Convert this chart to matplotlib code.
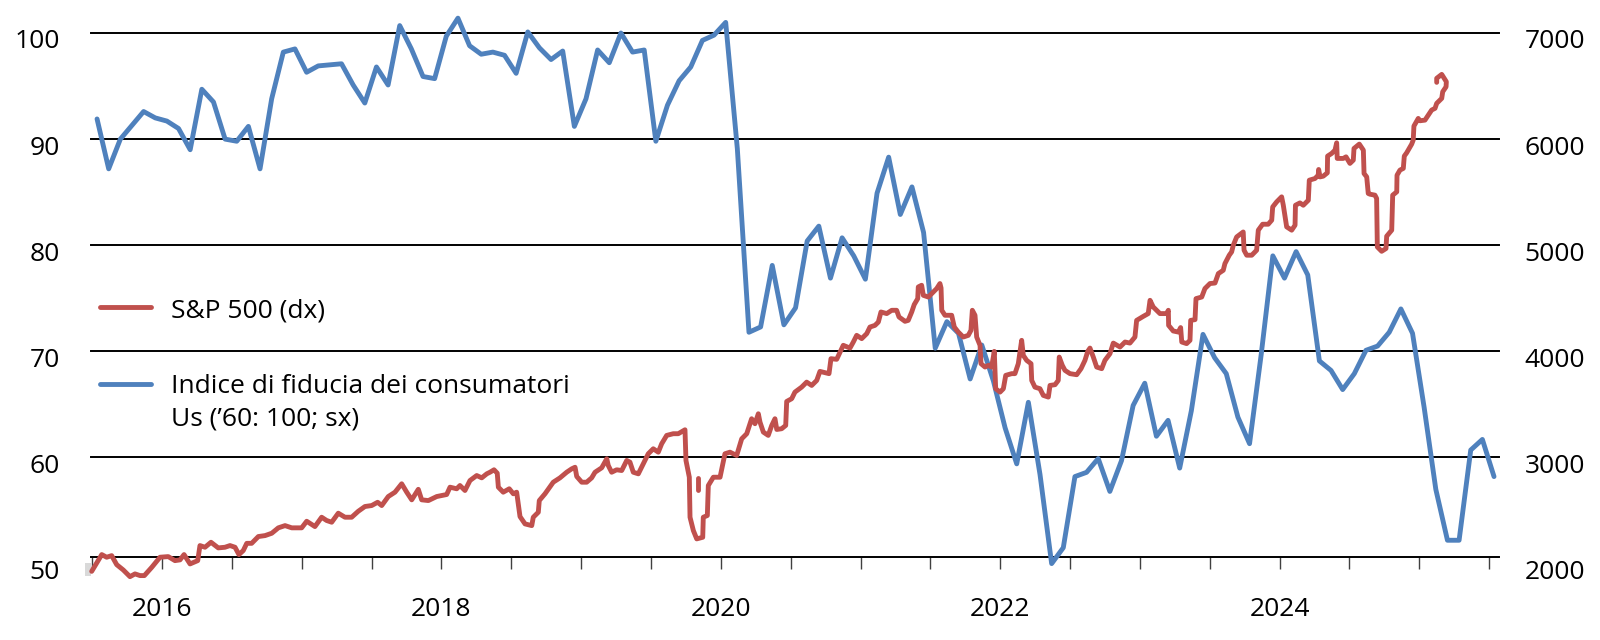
import matplotlib
matplotlib.use("Agg")
import matplotlib.pyplot as plt
import matplotlib.transforms as mtransforms
from matplotlib.lines import Line2D
from matplotlib.patches import Rectangle
import numpy as np

# indice di fiducia dei consumatori Usa, mensile da ago 2015 ad ago 2025 (asse sx)
fiducia_inizio = 2015 + 7 / 12
fiducia = [91.9, 87.2, 90.0, 91.3, 92.6,
           92.0, 91.7, 91.0, 89.0, 94.7, 93.5, 90.0, 89.8, 91.2, 87.2, 93.8, 98.2,
           98.5, 96.3, 96.9, 97.0, 97.1, 95.1, 93.4, 96.8, 95.1, 100.7, 98.5, 95.9,
           95.7, 99.7, 101.4, 98.8, 98.0, 98.2, 97.9, 96.2, 100.1, 98.6, 97.5, 98.3,
           91.2, 93.8, 98.4, 97.2, 100.0, 98.2, 98.4, 89.8, 93.2, 95.5, 96.8, 99.3,
           99.8, 101.0, 89.1, 71.8, 72.3, 78.1, 72.5, 74.1, 80.4, 81.8, 76.9, 80.7,
           79.0, 76.8, 84.9, 88.3, 82.9, 85.5, 81.2, 70.3, 72.8, 71.7, 67.4, 70.6,
           67.2, 62.8, 59.4, 65.2, 58.4, 50.0, 51.5, 58.2, 58.6, 59.9, 56.8, 59.7,
           64.9, 67.0, 62.0, 63.5, 59.0, 64.4, 71.6, 69.4, 67.9, 63.8, 61.3, 69.7,
           79.0, 76.9, 79.4, 77.2, 69.1, 68.2, 66.4, 67.9, 70.1, 70.5, 71.8, 74.0,
           71.7, 64.7, 57.0, 52.2, 52.2, 60.7, 61.7, 58.2]

# S&P 500 (asse dx): date in anni decimali e livelli
sp_date = [
    2015.545, 2015.617, 2015.652, 2015.688, 2015.724, 2015.771, 2015.819, 2015.855, 2015.891, 2015.922, 2015.975, 2016.034,
    2016.093, 2016.141, 2016.177, 2016.206, 2016.249, 2016.304, 2016.320, 2016.356, 2016.399, 2016.451, 2016.499, 2016.535,
    2016.571, 2016.599, 2016.630, 2016.655, 2016.690, 2016.738, 2016.786, 2016.834, 2016.881, 2016.929, 2016.977, 2017.048,
    2017.084, 2017.143, 2017.191, 2017.227, 2017.263, 2017.310, 2017.358, 2017.406, 2017.453, 2017.501, 2017.549, 2017.592,
    2017.621, 2017.668, 2017.716, 2017.764, 2017.800, 2017.836, 2017.883, 2017.907, 2017.955, 2018.015, 2018.086, 2018.110,
    2018.158, 2018.181, 2018.217, 2018.253, 2018.301, 2018.337, 2018.373, 2018.396, 2018.425, 2018.448, 2018.456, 2018.491,
    2018.534, 2018.563, 2018.587, 2018.611, 2018.647, 2018.695, 2018.706, 2018.742, 2018.749, 2018.790, 2018.849, 2018.897,
    2018.945, 2018.981, 2019.005, 2019.017, 2019.053, 2019.088, 2019.124, 2019.148, 2019.196, 2019.232, 2019.243, 2019.267,
    2019.303, 2019.339, 2019.375, 2019.398, 2019.422, 2019.458, 2019.494, 2019.529, 2019.565, 2019.601, 2019.625, 2019.661,
    2019.708, 2019.744, 2019.792, 2019.799, 2019.823, 2019.828, 2019.852, 2019.876, 2019.919, 2019.923, 2019.952, 2019.959,
    2019.995, 2020.043, 2020.078, 2020.114, 2020.162, 2020.198, 2020.234, 2020.269, 2020.293, 2020.317, 2020.329, 2020.353,
    2020.388, 2020.413, 2020.436, 2020.449, 2020.484, 2020.513, 2020.520, 2020.556, 2020.579, 2020.627, 2020.663, 2020.699,
    2020.735, 2020.758, 2020.794, 2020.823, 2020.837, 2020.878, 2020.902, 2020.925, 2020.973, 2020.997, 2021.021, 2021.057,
    2021.093, 2021.116, 2021.152, 2021.176, 2021.195, 2021.236, 2021.272, 2021.307, 2021.324, 2021.367, 2021.390, 2021.415,
    2021.433, 2021.458, 2021.462, 2021.486, 2021.498, 2021.534, 2021.569, 2021.594, 2021.617, 2021.625, 2021.630, 2021.653,
    2021.701, 2021.720, 2021.748, 2021.784, 2021.820, 2021.839, 2021.849, 2021.868, 2021.880, 2021.904, 2021.911, 2021.940,
    2021.963, 2021.987, 2022.006, 2022.016, 2022.047, 2022.071, 2022.088, 2022.131, 2022.154, 2022.178, 2022.202, 2022.214,
    2022.238, 2022.269, 2022.274, 2022.297, 2022.333, 2022.357, 2022.393, 2022.405, 2022.441, 2022.464, 2022.471, 2022.493,
    2022.512, 2022.548, 2022.596, 2022.627, 2022.655, 2022.675, 2022.691, 2022.715, 2022.739, 2022.775, 2022.798, 2022.834,
    2022.858, 2022.906, 2022.942, 2022.977, 2023.013, 2023.025, 2023.073, 2023.108, 2023.121, 2023.144, 2023.192, 2023.240,
    2023.252, 2023.254, 2023.287, 2023.323, 2023.340, 2023.348, 2023.383, 2023.407, 2023.412, 2023.443, 2023.450, 2023.491,
    2023.514, 2023.550, 2023.586, 2023.610, 2023.645, 2023.657, 2023.688, 2023.705, 2023.717, 2023.741, 2023.788, 2023.794,
    2023.813, 2023.849, 2023.884, 2023.896, 2023.927, 2023.967, 2023.992, 2023.999, 2024.027, 2024.063, 2024.075, 2024.099,
    2024.135, 2024.159, 2024.162, 2024.194, 2024.218, 2024.254, 2024.261, 2024.302, 2024.325, 2024.328, 2024.338, 2024.361,
    2024.390, 2024.392, 2024.421, 2024.445, 2024.457, 2024.461, 2024.504, 2024.524, 2024.552, 2024.576, 2024.581, 2024.619,
    2024.648, 2024.653, 2024.672, 2024.683, 2024.695, 2024.731, 2024.743, 2024.748, 2024.779, 2024.810, 2024.815, 2024.851,
    2024.858, 2024.887, 2024.889, 2024.910, 2024.934, 2024.941, 2024.958, 2024.994, 2025.005, 2025.010, 2025.041, 2025.053,
    2025.089, 2025.113, 2025.137, 2025.161, 2025.173, 2025.209, 2025.216, 2025.240, 2025.242, 2025.209, 2025.173, 2025.173]
sp_livello = [
    1927, 2085, 2060, 2075, 1990, 1940, 1877, 1903, 1887, 1887, 1965, 2060,
    2066, 2028, 2035, 2085, 1997, 2028, 2170, 2154, 2201, 2148, 2154, 2170,
    2154, 2085, 2123, 2191, 2191, 2255, 2264, 2286, 2337, 2358, 2337, 2337,
    2399, 2349, 2437, 2406, 2390, 2475, 2437, 2437, 2493, 2538, 2547, 2578,
    2547, 2632, 2673, 2752, 2673, 2601, 2700, 2601, 2594, 2632, 2651, 2720,
    2705, 2736, 2689, 2783, 2830, 2808, 2846, 2861, 2884, 2852, 2720, 2673,
    2705, 2658, 2673, 2443, 2374, 2358, 2437, 2484, 2594, 2658, 2767, 2808,
    2861, 2893, 2908, 2821, 2767, 2767, 2808, 2861, 2903, 2988, 2924, 2861,
    2884, 2877, 2972, 2956, 2861, 2846, 2941, 3035, 3082, 3050, 3129, 3208,
    3224, 3224, 3261, 2972, 2814, 2437, 2311, 2233, 2248, 2437, 2453, 2736,
    2814, 2814, 3035, 3050, 3019, 3176, 3224, 3365, 3318, 3412, 3333, 3239,
    3208, 3302, 3365, 3264, 3271, 3302, 3528, 3554, 3616, 3663, 3710, 3679,
    3726, 3811, 3799, 3790, 3931, 3925, 3993, 4057, 4031, 4088, 4151, 4120,
    4167, 4229, 4245, 4276, 4371, 4356, 4387, 4387, 4324, 4283, 4292, 4371,
    4441, 4497, 4607, 4623, 4528, 4512, 4559, 4592, 4639, 4597, 4387, 4340,
    4340, 4229, 4182, 4135, 4151, 4198, 4387, 4340, 4135, 4057, 3884, 3852,
    3868, 3852, 4000, 3648, 3616, 3648, 3774, 3790, 3790, 3884, 4104, 3962,
    3915, 3884, 3726, 3663, 3648, 3585, 3569, 3679, 3686, 3726, 3946, 3868,
    3821, 3790, 3780, 3837, 3915, 4000, 4031, 3946, 3852, 3837, 3915, 3978,
    4078, 4041, 4088, 4078, 4135, 4292, 4330, 4356, 4481, 4418, 4356, 4356,
    4387, 4245, 4192, 4182, 4224, 4088, 4073, 4104, 4292, 4299, 4497, 4512,
    4592, 4639, 4644, 4733, 4764, 4827, 4906, 4937, 5000, 5078, 5125, 4953,
    4906, 4906, 4953, 5142, 5198, 5198, 5236, 5361, 5408, 5456, 5377, 5173,
    5142, 5189, 5377, 5399, 5377, 5424, 5613, 5629, 5660, 5714, 5644, 5651,
    5682, 5840, 5865, 5896, 5965, 5818, 5818, 5833, 5771, 5802, 5912, 5953,
    5896, 5676, 5644, 5488, 5481, 5472, 5441, 4984, 4943, 4969, 5085, 5142,
    5472, 5503, 5660, 5708, 5724, 5840, 5871, 5953, 5991, 6123, 6195, 6173,
    6179, 6226, 6274, 6290, 6337, 6384, 6446, 6493, 6541, 6610, 6573, 6535]
# trattino staccato nel crollo del 2020
sp_gap_date = [2019.887, 2019.887]
sp_gap_livello = [2808, 2689]

anni = [2016, 2018, 2020, 2022, 2024]
tick_sx = [50, 60, 70, 80, 90, 100]
tick_dx = [2000, 3000, 4000, 5000, 6000, 7000]

rosso = '#C0504D'
blu = '#4F81BD'
lw = 3.5
fs = 19

plt.rcParams['font.family'] = ['Open Sans', 'DejaVu Sans']
plt.rcParams['font.size'] = fs

fig = plt.figure(figsize=(16, 6.4), dpi=100)
ax = fig.add_axes([91 / 1600, 76.4 / 640, 1408 / 1600, 530.6 / 640])
ax2 = ax.twinx()

ax.set_xlim(2015.540, 2025.619)
ax.set_ylim(50, 100)
ax2.set_ylim(2000, 7000)

# griglia orizzontale
for v in tick_sx[1:]:
    ax.axhline(v, color='black', lw=1.4, zorder=1, clip_on=False)

t_fid = fiducia_inizio + np.arange(len(fiducia)) / 12
ax.plot(t_fid, fiducia, color=blu, lw=lw, solid_joinstyle='round',
        solid_capstyle='round', clip_on=False, zorder=3)
ax2.plot(sp_date, sp_livello, color=rosso, lw=lw, solid_joinstyle='round',
         solid_capstyle='round', clip_on=False)
ax2.plot(sp_gap_date, sp_gap_livello, color=rosso, lw=lw,
         solid_capstyle='round', clip_on=False)

for s in ['top', 'left', 'right']:
    ax.spines[s].set_visible(False)
for s in ax2.spines.values():
    s.set_visible(False)
ax.spines['bottom'].set_position(('data', 50.62))
ax.spines['bottom'].set_linewidth(1.4)
ax.spines['bottom'].set_color('black')

# tacche semestrali, etichette ogni due anni
scarto = 0.0486
primo = 2016 + scarto - 0.5
xt = primo + 0.5 * np.arange(21)
etichette = [''] * len(xt)
for a in anni:
    etichette[int(round((a + scarto - primo) / 0.5))] = str(a)
ax.set_xticks(xt)
ax.set_xticklabels(etichette)
ax.tick_params(axis='x', direction='out', length=8.6, width=1,
               color='#404040', pad=20.5, labelsize=fs)

ax.set_yticks(tick_sx)
ax.set_yticklabels([str(v) for v in tick_sx])
ax2.set_yticks(tick_dx)
ax2.set_yticklabels([str(v) for v in tick_dx])
ax.tick_params(axis='y', length=0, pad=22.3, labelsize=fs)
ax2.tick_params(axis='y', length=0, pad=18.5, labelsize=fs)

giu = mtransforms.ScaledTranslation(0, -6 / 100, fig.dpi_scale_trans)
for lab in ax.get_yticklabels() + ax2.get_yticklabels():
    lab.set_transform(lab.get_transform() + giu)

# legenda
fig.add_artist(Line2D([99.5 / 1600, 150.5 / 1600], [1 - 307 / 640] * 2,
                      color=rosso, lw=lw, solid_capstyle='round'))
fig.text(171 / 1600, 1 - 317 / 640, 'S&P 500 (dx)', va='baseline')
fig.add_artist(Line2D([99.5 / 1600, 150.5 / 1600], [1 - 384 / 640] * 2,
                      color=blu, lw=lw, solid_capstyle='round'))
fig.text(171 / 1600, 1 - 393 / 640, 'Indice di fiducia dei consumatori', va='baseline')
fig.text(171 / 1600, 1 - 425 / 640, 'Us (\u201960: 100; sx)', va='baseline')

fig.add_artist(Rectangle((85 / 1600, 1 - 576 / 640), 6 / 1600, 13 / 640,
                         color='#d9d9d9', lw=0, zorder=0))

fig.savefig('out.png', dpi=100, facecolor='white')
